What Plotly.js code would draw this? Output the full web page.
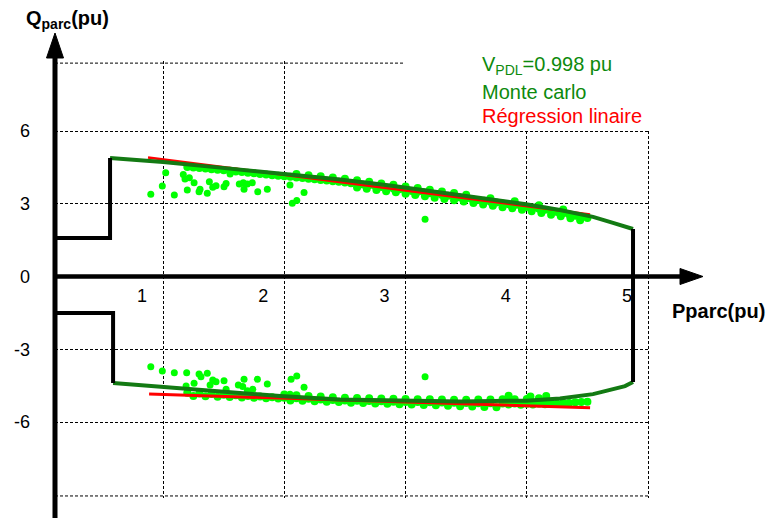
<!DOCTYPE html>
<html>
<head>
<meta charset="utf-8">
<script src="https://cdn.plot.ly/plotly-3.0.1.min.js"></script>
<style>html,body{margin:0;padding:0;background:#fff;}#chart{width:771px;height:518px;}</style>
</head>
<body>
<div id="chart"></div>
<script>
// ---- tick labels ----
const xTickVals = [1, 2, 3, 4, 5];
const xTickText = ['1', '2', '3', '4', '5'];
const yTickVals = [-6, -3, 0, 3, 6];
const yTickText = ['-6', '-3', '0', '3', '6'];
const yOuterGrid = [-9.05, 8.80];

// ---- capability boundary (black) ----
const boundaryUpperX = [0.109, 0.563, 0.563];
const boundaryUpperY = [1.59, 1.59, 4.89];
const boundaryLowerX = [0.109, 0.588, 0.588];
const boundaryLowerY = [-1.50, -1.50, -4.39];
const boundaryRightX = [4.876, 4.876];
const boundaryRightY = [1.96, -4.35];

// ---- capability curve V_PDL = 0.998 pu (dark green) ----
const curveUpperX = [0.563, 1.0, 1.470, 1.965, 2.460, 2.872, 2.979, 3.449, 3.994, 4.274, 4.546, 4.711, 4.876];
const curveUpperY = [4.89, 4.72, 4.49, 4.25, 4.00, 3.75, 3.68, 3.36, 2.98, 2.74, 2.46, 2.21, 1.96];
const curveLowerX = [0.588, 1.0, 1.470, 1.965, 2.460, 2.979, 3.449, 3.994, 4.274, 4.546, 4.711, 4.810, 4.876];
const curveLowerY = [-4.39, -4.56, -4.76, -4.93, -5.07, -5.12, -5.15, -5.12, -5.03, -4.85, -4.64, -4.52, -4.35];

// ---- linear regression (red) ----
const regUpperX = [0.876, 4.522];
const regUpperY = [4.91, 2.56];
const regLowerX = [0.885, 4.522];
const regLowerY = [-4.85, -5.41];

// ---- Monte Carlo points (bright green) ----
const mcUpperScatterX = [0.899, 0.994, 1.022, 1.093, 1.167, 1.181, 1.217, 1.256, 1.200, 1.305, 1.297, 1.365, 1.382, 1.437, 1.410, 1.503, 1.520, 1.553, 1.629, 1.662, 1.695, 1.736, 1.668, 1.781, 1.860, 2.047, 2.163, 2.103, 2.066, 3.161];
const mcUpperScatterY = [3.39, 3.73, 4.28, 3.36, 4.21, 4.02, 4.07, 3.87, 3.57, 3.60, 3.50, 3.43, 3.91, 3.74, 3.68, 3.70, 3.84, 4.23, 3.81, 3.87, 3.81, 3.87, 3.60, 3.50, 3.60, 3.77, 3.46, 3.13, 3.02, 2.36];

const mcUpperBandX = [
  1.20, 1.25, 1.30, 1.35, 1.40, 1.45, 1.50, 1.55, 1.60, 1.65, 1.70, 1.75, 1.80, 1.85, 1.90, 1.95,
  2.00, 2.05, 2.10, 2.15, 2.20, 2.25, 2.30, 2.35, 2.40, 2.45, 2.50, 2.55, 2.60, 2.65, 2.70, 2.75, 2.80, 2.85, 2.90, 2.95,
  3.00, 3.05, 3.10, 3.15, 3.20, 3.25, 3.30, 3.35, 3.40, 3.45, 3.50, 3.55, 3.60, 3.65, 3.70, 3.75, 3.80, 3.85, 3.90, 3.95,
  4.00, 4.05, 4.10, 4.15, 4.20, 4.25, 4.30, 4.35, 4.40, 4.45, 4.50,
  2.10, 2.20, 2.30, 2.40, 2.50, 2.60, 2.70, 2.80, 2.90, 3.00, 3.10, 3.20, 3.30, 3.40, 3.50, 3.70, 3.90, 4.10, 4.30,
  2.60, 2.68, 2.76, 2.84, 2.92, 3.00, 3.08, 3.16, 3.24, 3.32, 3.40, 3.48, 3.56, 3.64, 3.72, 3.80, 3.88, 3.96, 4.04, 4.12, 4.20, 4.28, 4.36, 4.44];
const mcUpperBandY = [
  4.52, 4.50, 4.47, 4.45, 4.42, 4.40, 4.38, 4.36, 4.33, 4.31, 4.28, 4.26, 4.23, 4.21, 4.18, 4.16,
  4.13, 4.11, 4.08, 4.06, 4.03, 4.01, 3.98, 3.96, 3.93, 3.91, 3.88, 3.85, 3.82, 3.79, 3.76, 3.73, 3.69, 3.66, 3.63, 3.60,
  3.56, 3.53, 3.50, 3.47, 3.43, 3.40, 3.36, 3.33, 3.29, 3.26, 3.22, 3.19, 3.15, 3.12, 3.08, 3.05, 3.01, 2.98, 2.95, 2.91,
  2.87, 2.83, 2.79, 2.75, 2.70, 2.66, 2.61, 2.56, 2.51, 2.46, 2.41,
  4.23, 4.18, 4.13, 4.08, 4.03, 3.97, 3.91, 3.84, 3.78, 3.71, 3.65, 3.58, 3.51, 3.44, 3.37, 3.23, 3.10, 2.94, 2.76,
  3.67, 3.62, 3.57, 3.52, 3.47, 3.41, 3.36, 3.31, 3.25, 3.20, 3.14, 3.09, 3.03, 2.97, 2.92, 2.86, 2.81, 2.75, 2.69, 2.62, 2.55, 2.48, 2.40, 2.32];

const mcLowerScatterX = [0.899, 0.994, 1.093, 1.195, 1.297, 1.313, 1.365, 1.410, 1.437, 1.503, 1.668, 1.778, 1.860, 2.056, 2.103, 2.163, 1.256, 1.190, 1.388, 1.520, 1.621, 1.657, 1.695, 1.740, 2.047, 3.161];
const mcLowerScatterY = [-3.72, -3.90, -3.97, -3.97, -4.02, -4.13, -3.99, -4.27, -4.34, -4.30, -4.24, -4.24, -4.43, -4.24, -4.10, -4.57, -4.40, -4.52, -4.47, -4.65, -4.47, -4.54, -4.71, -4.65, -4.86, -4.13];

const mcLowerBandX = [
  2.0, 2.1, 2.2, 2.3, 2.4, 2.5, 2.6, 2.7, 2.8, 2.9, 3.0, 3.1, 3.2, 3.3, 3.4, 3.5, 3.6, 3.7, 3.8, 3.9, 4.0, 4.1,
  1.2, 1.3, 1.4, 1.5, 1.6, 1.7, 1.8, 1.9, 2.0, 2.1, 2.2, 2.3, 2.4, 2.5, 2.6, 2.7, 2.8, 2.9, 3.0, 3.1, 3.2, 3.3, 3.4, 3.5, 3.6, 3.7, 3.8, 3.9, 4.0, 4.1, 4.2, 4.3, 4.4, 4.5,
  1.25, 1.35, 1.45, 1.55, 1.65, 1.75, 1.85, 1.95, 2.05, 2.15, 2.25, 2.35, 2.45, 2.55, 2.65, 2.75, 2.85, 2.95, 3.05, 3.15, 3.25, 3.35, 3.45, 3.55, 3.65, 3.75, 3.85, 3.95, 4.05, 4.15, 4.25, 4.35, 4.45,
  3.85, 4.03, 4.16];
const mcLowerBandY = [
  -4.87, -4.90, -4.93, -4.95, -4.98, -5.00, -5.01, -5.02, -5.03, -5.04, -5.05, -5.06, -5.06, -5.07, -5.08, -5.08, -5.07, -5.07, -5.06, -5.06, -5.05, -5.02,
  -4.79, -4.82, -4.85, -4.88, -4.90, -4.93, -4.95, -4.98, -5.00, -5.02, -5.04, -5.07, -5.09, -5.11, -5.12, -5.13, -5.14, -5.16, -5.17, -5.18, -5.19, -5.20, -5.21, -5.22, -5.23, -5.23, -5.24, -5.24, -5.25, -5.24, -5.23, -5.22, -5.19, -5.16,
  -4.93, -4.94, -4.96, -4.97, -4.99, -5.00, -5.02, -5.03, -5.11, -5.12, -5.14, -5.16, -5.17, -5.21, -5.22, -5.24, -5.25, -5.27, -5.28, -5.30, -5.31, -5.33, -5.35, -5.36, -5.38, -5.39, -5.28, -5.29, -5.28, -5.27, -5.25, -5.22, -5.18,
  -4.92, -4.95, -4.93];

// ---- styling ----
const FONT = 'Liberation Sans, Arial, sans-serif';
const DARKGREEN = '#137a13';
const LIGHTGREEN = '#00ff00';
const TEXTGREEN = '#0d8a0d';
const RED = '#ff0000';

const xRange = [0.109, 5.016];
const yRange = [-9.134, 8.887];

// pixel -> paper helpers (plot area 55..650 x 61..498)
const ML = 55, MR = 121, MT = 61, MB = 20, W = 771, H = 518;
const PW = W - ML - MR, PH = H - MT - MB;
const fx = px => (px - ML) / PW;
const fy = py => (H - MB - py) / PH;
const fv = v => (v - yRange[0]) / (yRange[1] - yRange[0]);
const f0 = fv(0);
const py0 = H - MB - f0 * PH;

function mk(x, y, color, width, mode) {
  const m = mode || 'lines';
  const t = {x: x, y: y, type: 'scatter', mode: m, hoverinfo: 'skip', showlegend: false};
  if (m === 'lines') t.line = {color: color, width: width};
  else t.marker = {color: color, size: width, line: {width: 0}};
  return t;
}

const traces = [
  mk(mcUpperBandX, mcUpperBandY, LIGHTGREEN, 8, 'markers'),
  mk(mcLowerBandX, mcLowerBandY, LIGHTGREEN, 8, 'markers'),
  mk(mcUpperScatterX, mcUpperScatterY, LIGHTGREEN, 7, 'markers'),
  mk(mcLowerScatterX, mcLowerScatterY, LIGHTGREEN, 7, 'markers'),
  mk(regUpperX, regUpperY, RED, 2.5),
  mk(regLowerX, regLowerY, RED, 3),
  mk(curveUpperX, curveUpperY, DARKGREEN, 4),
  mk(curveLowerX, curveLowerY, DARKGREEN, 4),
  mk(boundaryUpperX, boundaryUpperY, '#000', 4),
  mk(boundaryLowerX, boundaryLowerY, '#000', 4),
  mk(boundaryRightX, boundaryRightY, '#000', 4)
];

const gridDash = '3px,2px';
const shapes = yOuterGrid.map(v => ({
  type: 'line', xref: 'paper', yref: 'paper', x0: 0, x1: 1, y0: fv(v), y1: fv(v),
  line: {color: '#000', width: 1, dash: gridDash}, layer: 'below'
}));
shapes.push(
  // white legend box hiding the grid behind the text
  {type: 'rect', xref: 'paper', yref: 'paper', x0: fx(405), x1: fx(660), y0: fy(129), y1: fy(52),
   fillcolor: '#fff', line: {width: 0}, layer: 'above'},
  // vertical axis with arrow
  {type: 'line', xref: 'paper', yref: 'paper', x0: 0, x1: 0, y0: fy(518), y1: fy(45),
   line: {color: '#000', width: 5}, layer: 'above'},
  {type: 'path', xref: 'paper', yref: 'paper',
   path: `M ${fx(55)} ${fy(33)} L ${fx(46.5)} ${fy(58)} L ${fx(63.5)} ${fy(58)} Z`,
   fillcolor: '#000', line: {color: '#000', width: 1}, layer: 'above'},
  // horizontal axis with arrow
  {type: 'line', xref: 'paper', yref: 'paper', x0: 0, x1: fx(684), y0: f0, y1: f0,
   line: {color: '#000', width: 4.5}, layer: 'above'},
  {type: 'path', xref: 'paper', yref: 'paper',
   path: `M ${fx(703)} ${f0} L ${fx(680)} ${fy(py0 - 8)} L ${fx(680)} ${fy(py0 + 8)} Z`,
   fillcolor: '#000', line: {color: '#000', width: 1}, layer: 'above'}
);

const layout = {
  width: W, height: H,
  margin: {l: ML, r: MR, t: MT, b: MB, pad: 0},
  paper_bgcolor: '#fff', plot_bgcolor: 'rgba(0,0,0,0)',
  showlegend: false,
  font: {family: FONT, color: '#000', size: 18},
  xaxis: {
    range: xRange, tickvals: xTickVals, ticktext: xTickText,
    showgrid: true, gridcolor: '#000', gridwidth: 1, griddash: gridDash,
    zeroline: false, showline: false, ticks: '',
    anchor: 'free', position: f0, automargin: false,
    ticklabelshift: -21, ticklabelstandoff: 6,
    tickfont: {family: FONT, size: 18, color: '#000'}
  },
  yaxis: {
    range: yRange, tickvals: yTickVals, ticktext: yTickText,
    showgrid: true, gridcolor: '#000', gridwidth: 1, griddash: gridDash,
    zeroline: false, showline: false, ticks: '', automargin: false,
    ticklabelstandoff: 24,
    tickfont: {family: FONT, size: 18, color: '#000'}
  },
  shapes: shapes,
  annotations: [
    {xref: 'paper', yref: 'paper', x: fx(24), y: fy(19), xanchor: 'left', yanchor: 'middle', showarrow: false,
     text: '<b>Q<sub>parc</sub>(pu)</b>', font: {family: FONT, size: 20, color: '#000'}},
    {xref: 'paper', yref: 'paper', x: fx(670), y: fy(311), xanchor: 'left', yanchor: 'middle', showarrow: false,
     text: '<b>Pparc(pu)</b>', font: {family: FONT, size: 20, color: '#000'}},
    {xref: 'paper', yref: 'paper', x: fx(480), y: fy(66), xanchor: 'left', yanchor: 'middle', showarrow: false,
     text: 'V<sub>PDL</sub>=0.998 pu', font: {family: FONT, size: 20, color: TEXTGREEN}},
    {xref: 'paper', yref: 'paper', x: fx(480), y: fy(92), xanchor: 'left', yanchor: 'middle', showarrow: false,
     text: 'Monte carlo', font: {family: FONT, size: 20, color: TEXTGREEN}},
    {xref: 'paper', yref: 'paper', x: fx(480), y: fy(116), xanchor: 'left', yanchor: 'middle', showarrow: false,
     text: 'Régression linaire', font: {family: FONT, size: 20, color: RED}}
  ]
};

Plotly.newPlot('chart', traces, layout, {staticPlot: true, displayModeBar: false});
</script>
</body>
</html>
